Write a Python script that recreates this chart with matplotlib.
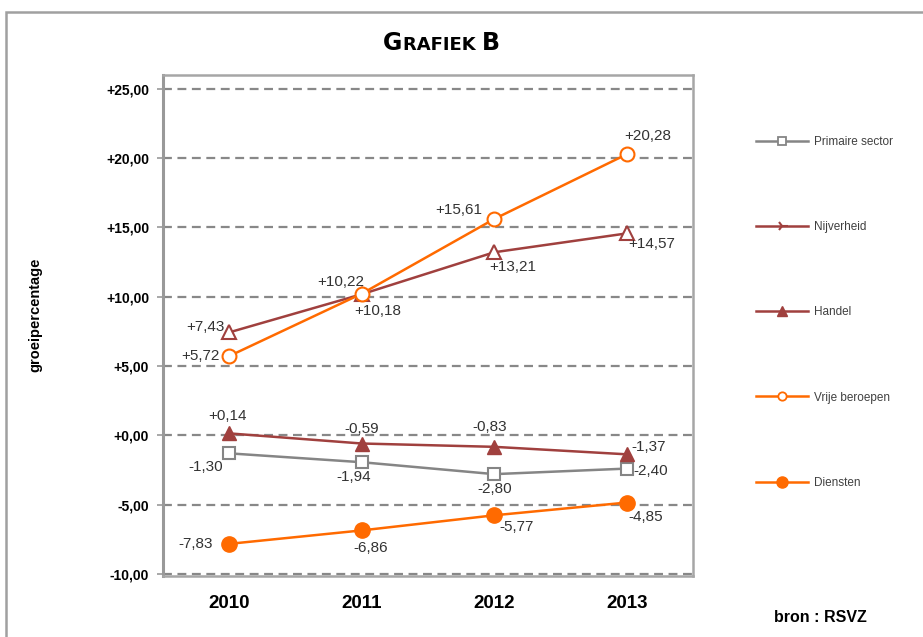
import matplotlib
matplotlib.use("Agg")
import matplotlib.pyplot as plt
from matplotlib.lines import Line2D
from matplotlib.patches import Rectangle

plt.rcParams['font.family'] = ['Liberation Sans', 'DejaVu Sans']

years = ['2010', '2011', '2012', '2013']
primaire = [-1.30, -1.94, -2.80, -2.40]
nijverheid = [7.43, 10.18, 13.21, 14.57]
handel = [0.14, -0.59, -0.83, -1.37]
vrije = [5.72, 10.22, 15.61, 20.28]
diensten = [-7.83, -6.86, -5.77, -4.85]
yticks = [-10, -5, 0, 5, 10, 15, 20, 25]

GRAY = '#858585'
RED = '#A0403E'
ORANGE = '#FF6A00'
TXT = '#333333'

fig = plt.figure(figsize=(9.23, 6.37), dpi=100)
W, H = 923, 637
ax = fig.add_axes([163 / W, 1 - 576 / H, 530 / W, 501 / H])

x = list(range(len(years)))
lw = 1.8
ms = 9
ax.plot(x, primaire, color=GRAY, lw=lw, marker='s', ms=ms, mfc='white', mec=GRAY, mew=1.5, zorder=3)
ax.plot(x, nijverheid, color=RED, lw=lw, marker='^', ms=ms + 1, mfc='white', mec=RED, mew=1.5, zorder=3)
ax.plot(x, handel, color=RED, lw=lw, marker='^', ms=ms + 1, mfc=RED, mec=RED, zorder=3)
ax.plot(x, vrije, color=ORANGE, lw=lw, marker='o', ms=ms + 1, mfc='white', mec=ORANGE, mew=1.5, zorder=3)
ax.plot(x, diensten, color=ORANGE, lw=lw, marker='o', ms=ms + 2, mfc=ORANGE, mec=ORANGE, zorder=3)

ax.set_xlim(-0.5, 3.5)
ax.set_ylim(-10.15, 26.0)
ax.set_yticks(yticks)
ax.set_yticklabels([('+' if v >= 0 else '') + f"{v:.2f}".replace('.', ',') for v in yticks],
                   fontsize=10, fontweight='bold')
ax.set_xticks(x)
ax.set_xticklabels(years, fontsize=13.5, fontweight='bold')
ax.tick_params(axis='x', length=0, pad=14)
ax.tick_params(axis='y', length=4, width=1.2, color='#999999', direction='out', pad=6)
ax.grid(axis='y', color='#888888', ls=(0, (4, 2.5)), lw=1.6, zorder=1)
for s in ax.spines.values():
    s.set_color('#a6a6a6')
    s.set_linewidth(1.8)
ax.spines['left'].set_color('#999999')
ax.spines['left'].set_linewidth(2.2)

def fmt(v):
    return ('+' if v >= 0 else '') + f"{v:.2f}".replace('.', ',')

px = 0.72  # px -> points at 100 dpi

def lab(i, v, dx, dy):
    ax.annotate(fmt(v), (i, v), xytext=(dx * px, dy * px), textcoords='offset points',
                ha='center', va='center', fontsize=11, color=TXT, zorder=5)

# offsets in pixels (dx right, dy up)
for i, (v, o) in enumerate(zip(primaire, [(-24, -14), (-8, -15), (0, -15), (24, -2)])):
    lab(i, v, *o)
for i, (v, o) in enumerate(zip(nijverheid, [(-24, 5), (16, -17), (19, -15), (25, -11)])):
    lab(i, v, *o)
for i, (v, o) in enumerate(zip(handel, [(-2, 17), (0, 15), (-5, 20), (22, 7)])):
    lab(i, v, *o)
for i, (v, o) in enumerate(zip(vrije, [(-29, 0), (-21, 12), (-35, 9), (21, 18)])):
    lab(i, v, *o)
for i, (v, o) in enumerate(zip(diensten, [(-34, 0), (9, -18), (22, -12), (19, -14)])):
    lab(i, v, *o)

# Legend
handles = [Line2D([], [], color=GRAY, lw=lw, marker='s', ms=6, mfc='white', mec=GRAY, mew=1.3),
           Line2D([], [], color=RED, lw=lw, marker='4', ms=8, mew=1.5, mec=RED),
           Line2D([], [], color=RED, lw=lw, marker='^', ms=7, mfc=RED, mec=RED),
           Line2D([], [], color=ORANGE, lw=lw, marker='o', ms=6, mfc='white', mec=ORANGE, mew=1.3),
           Line2D([], [], color=ORANGE, lw=lw, marker='o', ms=8, mfc=ORANGE, mec=ORANGE)]
labels = ['Primaire sector', 'Nijverheid', 'Handel', 'Vrije beroepen', 'Diensten']
leg = fig.legend(handles, labels, loc='upper left', bbox_to_anchor=(756 / W, 1 - 136 / H),
                 frameon=False, labelspacing=6.2, handlelength=4.4,
                 handletextpad=0.5, borderaxespad=0, borderpad=0,
                 prop={'family': ['Liberation Sans Narrow', 'Liberation Sans'], 'size': 8.5})
for t in leg.get_texts():
    t.set_color('#404040')

# Title in small-caps style
t1 = fig.text(383 / W, 1 - 50 / H, 'G', fontsize=17, fontweight='bold', ha='left', va='baseline',
              family=['DejaVu Sans'])
t2 = fig.text(0, 0, 'RAFIEK ', fontsize=13, fontweight='bold', ha='left', va='baseline',
              family=['DejaVu Sans'])
t3 = fig.text(0, 0, 'B', fontsize=17, fontweight='bold', ha='left', va='baseline', family=['DejaVu Sans'])
fig.canvas.draw()
r = fig.canvas.get_renderer()
bb1 = t1.get_window_extent(r)
t2.set_position(((bb1.x1 + 1) / W, 1 - 50 / H))
fig.canvas.draw()
bb2 = t2.get_window_extent(r)
t3.set_position(((bb2.x1) / W, 1 - 50 / H))

fig.text(35 / W, 1 - 315 / H, 'groeipercentage', rotation=90, fontsize=10.5, fontweight='bold',
         ha='center', va='center')
fig.text(820 / W, 1 - 618 / H, 'bron : RSVZ', fontsize=11.5, fontweight='bold', ha='center', va='center')

# outer frame
fig.add_artist(Rectangle((6 / W, -0.1), 1.2, 1.1 - 12 / H, transform=fig.transFigure,
                         fill=False, ec='#a0a0a0', lw=1.8))

fig.savefig('out.png', dpi=100)
